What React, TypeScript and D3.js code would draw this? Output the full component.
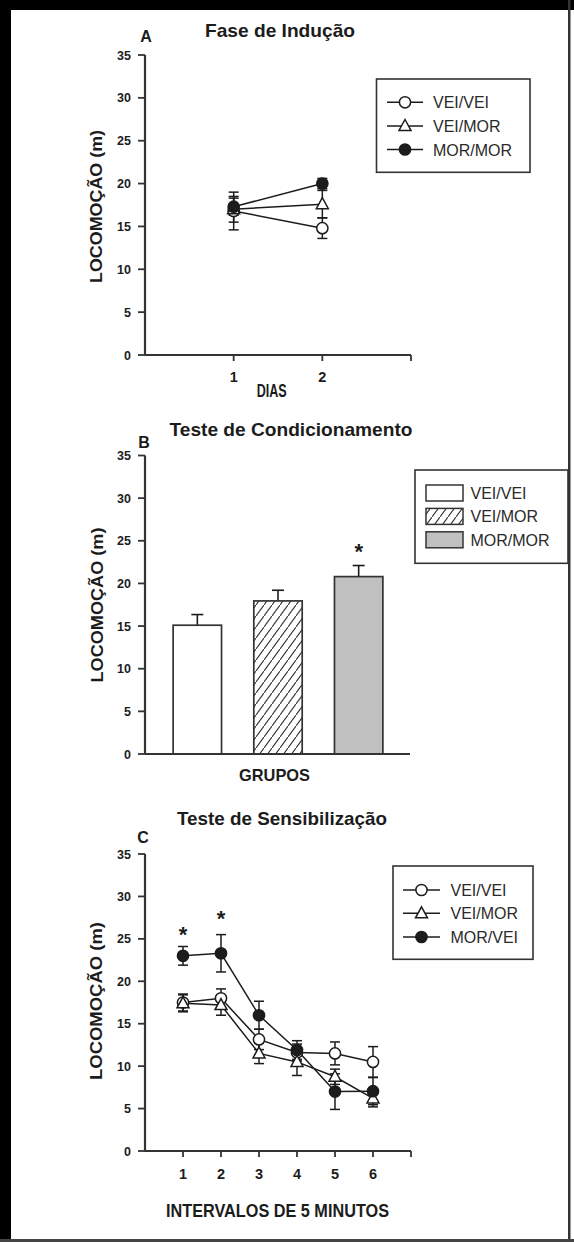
import React from "react";
import * as d3 from "d3";

// ---------- DATA ----------
const yTicks = [0, 5, 10, 15, 20, 25, 30, 35];

// Panel A – Fase de Indução
const daysA = [1, 2];
const aVeiVei = [16.8, 14.8];
const aVeiVeiErr = [2.2, 1.2];
const aVeiMor = [17.0, 17.6];
const aVeiMorErr = [1.5, 1.6];
const aMorMor = [17.3, 20.0];
const aMorMorErr = [1.0, 0.6];
const legendA = ["VEI/VEI", "VEI/MOR", "MOR/MOR"];

// Panel B – Teste de Condicionamento
const groupsB = ["VEI/VEI", "VEI/MOR", "MOR/MOR"];
const valuesB = [15.1, 17.95, 20.8];
const errB = [1.25, 1.25, 1.3];
const starB = [{ group: "MOR/MOR", value: 24.3 }];

// Panel C – Teste de Sensibilização
const intervalsC = [1, 2, 3, 4, 5, 6];
const cVeiVei = [17.5, 18.0, 13.15, 11.6, 11.5, 10.5];
const cVeiVeiErr = [1.0, 1.1, 1.2, 1.0, 1.35, 1.8];
const cVeiMor = [17.4, 17.2, 11.5, 10.5, 8.75, 6.2];
const cVeiMorErr = [1.0, 1.2, 1.2, 1.6, 0.9, 1.0];
const cMorVei = [23.0, 23.3, 16.0, 11.9, 7.0, 7.05];
const cMorVeiErr = [1.1, 2.2, 1.65, 1.1, 2.1, 1.6];
const starsC = [
  { x: 1, value: 26.1 },
  { x: 2, value: 28.0 },
];
const legendC = ["VEI/VEI", "VEI/MOR", "MOR/VEI"];

// ---------- STYLE ----------
const FONT = "'Liberation Sans', Arial, Helvetica, sans-serif";
const AX = "#333";
const INK = "#1c1c1c";

type Scale = d3.ScaleLinear<number, number>;

function YAxis({ y, x0 }: { y: Scale; x0: number }) {
  return (
    <g>
      <line x1={x0} x2={x0} y1={y(0)} y2={y(35)} stroke={AX} strokeWidth={2.2} />
      {yTicks.map((t) => (
        <g key={t}>
          <line x1={x0 - 7} x2={x0} y1={y(t)} y2={y(t)} stroke={AX} strokeWidth={1.8} />
          <text
            x={x0 - 14}
            y={y(t) + 4.5}
            textAnchor="end"
            fontFamily={FONT}
            fontWeight="bold"
            fontSize={12.5}
            fill={INK}
          >
            {t}
          </text>
        </g>
      ))}
    </g>
  );
}

function YLabel({ cx, cy, len }: { cx: number; cy: number; len: number }) {
  return (
    <text
      transform={`translate(${cx + 6},${cy}) rotate(-90)`}
      textAnchor="middle"
      fontFamily={FONT}
      fontWeight="bold"
      fontSize={17}
      fill={INK}
      textLength={len}
      lengthAdjust="spacingAndGlyphs"
    >
      LOCOMOÇÃO (m)
    </text>
  );
}

function Marker({ kind, x, y }: { kind: string; x: number; y: number }) {
  if (kind === "tri") {
    const p = d3.path();
    p.moveTo(x, y - 6.5);
    p.lineTo(x + 6, y + 4.5);
    p.lineTo(x - 6, y + 4.5);
    p.closePath();
    return <path d={p.toString()} fill="#fff" stroke={INK} strokeWidth={1.5} />;
  }
  return (
    <circle
      cx={x}
      cy={y}
      r={5.6}
      fill={kind === "filled" ? INK : "#fff"}
      stroke={INK}
      strokeWidth={1.5}
    />
  );
}

function Series({
  xs,
  vals,
  errs,
  x,
  y,
  kind,
  layer,
}: {
  xs: number[];
  vals: number[];
  errs: number[];
  x: Scale;
  y: Scale;
  kind: string;
  layer: string;
}) {
  const pts = xs.map((d, i) => [x(d), y(vals[i])] as [number, number]);
  if (layer === "line") {
    const line = d3.line();
    return <path d={line(pts) || ""} fill="none" stroke={INK} strokeWidth={1.5} />;
  }
  if (layer === "err") {
    return (
      <g stroke={INK} strokeWidth={1.5}>
        {xs.map((d, i) => {
          const cx = x(d);
          const top = y(vals[i] + errs[i]);
          const bot = y(vals[i] - errs[i]);
          return (
            <g key={i}>
              <line x1={cx} x2={cx} y1={top} y2={bot} />
              <line x1={cx - 5} x2={cx + 5} y1={top} y2={top} />
              <line x1={cx - 5} x2={cx + 5} y1={bot} y2={bot} />
            </g>
          );
        })}
      </g>
    );
  }
  return (
    <g>
      {pts.map((p, i) => (
        <Marker key={i} kind={kind} x={p[0]} y={p[1]} />
      ))}
    </g>
  );
}

function LineLegend({
  x0,
  y0,
  w,
  h,
  labels,
  lineX1,
  lineX2,
  textX,
  rows,
}: {
  x0: number;
  y0: number;
  w: number;
  h: number;
  labels: string[];
  lineX1: number;
  lineX2: number;
  textX: number;
  rows: number[];
}) {
  const kinds = ["open", "tri", "filled"];
  return (
    <g>
      <rect x={x0} y={y0} width={w} height={h} fill="#fff" stroke={AX} strokeWidth={1.6} />
      {labels.map((l, i) => (
        <g key={l}>
          <line x1={lineX1} x2={lineX2} y1={rows[i]} y2={rows[i]} stroke={INK} strokeWidth={1.5} />
          <Marker kind={kinds[i]} x={(lineX1 + lineX2) / 2} y={rows[i]} />
          <text x={textX} y={rows[i] + 6} fontFamily={FONT} fontSize={16} fill="#2a2a2a">
            {l}
          </text>
        </g>
      ))}
    </g>
  );
}

export default function App() {
  // Panel A scales
  const xA = d3.scaleLinear().domain([0, 3]).range([145, 411]);
  const yA = d3.scaleLinear().domain([0, 35]).range([355, 55]);
  // Panel B scales
  const xB = d3
    .scaleBand<string>()
    .domain(groupsB)
    .range([157, 399])
    .paddingInner(0.4)
    .paddingOuter(0.2);
  const yB = d3.scaleLinear().domain([0, 35]).range([754, 455.5]);
  // Panel C scales
  const xC = d3.scaleLinear().domain([0, 7]).range([145, 411]);
  const yC = d3.scaleLinear().domain([0, 35]).range([1151, 854]);

  const seriesA = [
    { vals: aVeiVei, errs: aVeiVeiErr, kind: "open" },
    { vals: aVeiMor, errs: aVeiMorErr, kind: "tri" },
    { vals: aMorMor, errs: aMorMorErr, kind: "filled" },
  ];
  const seriesC = [
    { vals: cVeiVei, errs: cVeiVeiErr, kind: "open" },
    { vals: cVeiMor, errs: cVeiMorErr, kind: "tri" },
    { vals: cMorVei, errs: cMorVeiErr, kind: "filled" },
  ];
  const fillsB = ["#fff", "url(#hatch)", "#c0c0c0"];

  return (
    <svg
      width={574}
      height={1242}
      style={{ position: "absolute", left: 0, top: 0, background: "#fff" }}
    >
      <defs>
        <pattern id="hatch" patternUnits="userSpaceOnUse" width={8} height={11}>
          <rect width={8} height={11} fill="#fff" />
          <path d="M-2,13.75 L10,-2.75" stroke="#333" strokeWidth={1.1} />
        </pattern>
      </defs>
      <rect x={0} y={0} width={574} height={1242} fill="#fff" />

      {/* frame */}
      <rect x={0} y={0} width={11} height={1242} fill="#000" />
      <rect x={0} y={0} width={574} height={10} fill="#000" />
      <rect x={568} y={0} width={2.5} height={1242} fill="#333" />
      <rect x={0} y={1239} width={574} height={3} fill="#444" />

      {/* ================= PANEL A ================= */}
      <text x={146} y={41.7} textAnchor="middle" fontFamily={FONT} fontWeight="bold" fontSize={16} fill={INK}>
        A
      </text>
      <text x={280} y={37} textAnchor="middle" fontFamily={FONT} fontWeight="bold" fontSize={18.5} fill={INK}
        textLength={150} lengthAdjust="spacingAndGlyphs">
        Fase de Indução
      </text>
      <YAxis y={yA} x0={145} />
      <line x1={xA(0)} x2={xA(3)} y1={yA(0)} y2={yA(0)} stroke={AX} strokeWidth={2.2} />
      {[...daysA, 3].map((d) => (
        <line key={d} x1={xA(d)} x2={xA(d)} y1={yA(0)} y2={yA(0) + 6} stroke={AX} strokeWidth={1.8} />
      ))}
      {daysA.map((d) => (
        <text key={d} x={xA(d)} y={381.5} textAnchor="middle" fontFamily={FONT} fontWeight="bold" fontSize={14.5} fill={INK}>
          {d}
        </text>
      ))}
      <text x={271.7} y={396.7} textAnchor="middle" fontFamily={FONT} fontWeight="bold" fontSize={18}
        fill={INK} textLength={30} lengthAdjust="spacingAndGlyphs">
        DIAS
      </text>
      <YLabel cx={96} cy={206.5} len={153} />
      {["line", "err", "marker"].map((layer) => (
        <g key={layer}>
          {seriesA.map((s, i) => (
            <Series key={i} xs={daysA} vals={s.vals} errs={s.errs} x={xA} y={yA} kind={s.kind} layer={layer} />
          ))}
        </g>
      ))}
      <LineLegend x0={376.5} y0={79} w={153.5} h={93.3} labels={legendA}
        lineX1={387} lineX2={423} textX={433} rows={[102.3, 126, 149.5]} />

      {/* ================= PANEL B ================= */}
      <text x={291} y={436} textAnchor="middle" fontFamily={FONT} fontWeight="bold" fontSize={19} fill={INK}
        textLength={243} lengthAdjust="spacingAndGlyphs">
        Teste de Condicionamento
      </text>
      <text x={144} y={448} textAnchor="middle" fontFamily={FONT} fontWeight="bold" fontSize={16} fill={INK}>
        B
      </text>
      {groupsB.map((g, i) => {
        const x0 = xB(g) as number;
        const bw = xB.bandwidth();
        const cx = x0 + bw / 2;
        const top = yB(valuesB[i]);
        const et = yB(valuesB[i] + errB[i]);
        return (
          <g key={g}>
            <line x1={cx} x2={cx} y1={top} y2={et} stroke={INK} strokeWidth={1.6} />
            <line x1={cx - 6} x2={cx + 6} y1={et} y2={et} stroke={INK} strokeWidth={1.6} />
            <rect x={x0} y={top} width={bw} height={yB(0) - top} fill={fillsB[i]} stroke={AX} strokeWidth={1.7} />
          </g>
        );
      })}
      {starB.map((s) => (
        <text key={s.group} x={(xB(s.group) as number) + xB.bandwidth() / 2} y={yB(s.value) + 12.5}
          textAnchor="middle" fontFamily={FONT} fontWeight="bold" fontSize={22} fill={INK}>
          *
        </text>
      ))}
      <YAxis y={yB} x0={145} />
      <line x1={145} x2={410} y1={yB(0)} y2={yB(0)} stroke={AX} strokeWidth={2.2} />
      <text x={274.5} y={781} textAnchor="middle" fontFamily={FONT} fontWeight="bold" fontSize={17}
        fill={INK} textLength={71} lengthAdjust="spacingAndGlyphs">
        GRUPOS
      </text>
      <YLabel cx={96.5} cy={605} len={155} />
      <g>
        <rect x={415} y={470} width={153} height={93.3} fill="#fff" stroke={AX} strokeWidth={1.6} />
        {groupsB.map((g, i) => {
          const ry = 485 + i * 23.4;
          return (
            <g key={g}>
              <rect x={426} y={ry} width={37} height={16} fill={fillsB[i]} stroke={AX} strokeWidth={1.5} />
              <text x={470.5} y={ry + 14} fontFamily={FONT} fontSize={16} fill="#2a2a2a">
                {g}
              </text>
            </g>
          );
        })}
      </g>

      {/* ================= PANEL C ================= */}
      <text x={282} y={825} textAnchor="middle" fontFamily={FONT} fontWeight="bold" fontSize={18.5} fill={INK}
        textLength={210} lengthAdjust="spacingAndGlyphs">
        Teste de Sensibilização
      </text>
      <text x={143} y={843} textAnchor="middle" fontFamily={FONT} fontWeight="bold" fontSize={16} fill={INK}>
        C
      </text>
      <YAxis y={yC} x0={145} />
      <line x1={xC(0)} x2={xC(7)} y1={yC(0)} y2={yC(0)} stroke={AX} strokeWidth={2.2} />
      {[...intervalsC, 7].map((d) => (
        <line key={d} x1={xC(d)} x2={xC(d)} y1={yC(0)} y2={yC(0) + 6} stroke={AX} strokeWidth={1.8} />
      ))}
      {intervalsC.map((d) => (
        <text key={d} x={xC(d)} y={1179} textAnchor="middle" fontFamily={FONT} fontWeight="bold" fontSize={14.5} fill={INK}>
          {d}
        </text>
      ))}
      <text x={277.5} y={1216.5} textAnchor="middle" fontFamily={FONT} fontWeight="bold" fontSize={18}
        fill={INK} textLength={223} lengthAdjust="spacingAndGlyphs">
        INTERVALOS DE 5 MINUTOS
      </text>
      <YLabel cx={96} cy={1001} len={158} />
      {["line", "err", "marker"].map((layer) => (
        <g key={layer}>
          {seriesC.map((s, i) => (
            <Series key={i} xs={intervalsC} vals={s.vals} errs={s.errs} x={xC} y={yC} kind={s.kind} layer={layer} />
          ))}
        </g>
      ))}
      {starsC.map((s) => (
        <text key={s.x} x={xC(s.x)} y={yC(s.value) + 12.5} textAnchor="middle" fontFamily={FONT}
          fontWeight="bold" fontSize={22} fill={INK}>
          *
        </text>
      ))}
      <LineLegend x0={393} y0={866} w={140} h={93.3} labels={legendC}
        lineX1={403} lineX2={440} textX={450.5} rows={[890, 913.3, 937]} />
    </svg>
  );
}
